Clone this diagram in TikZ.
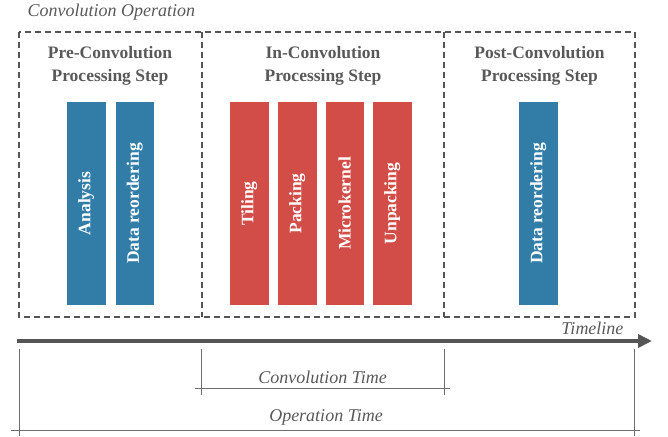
\documentclass[tikz,border=0pt]{standalone}
\usepackage{fontspec}
\setmainfont{Liberation Serif}
\usetikzlibrary{arrows.meta}
\definecolor{barblue}{HTML}{317DA8}
\definecolor{barred}{HTML}{D24C48}
\definecolor{textgray}{HTML}{595959}
\definecolor{linegray}{HTML}{555555}
\begin{document}
\begin{tikzpicture}[x=1pt,y=-1pt]
        \tikzstyle{bar}=[rotate=90,inner sep=0pt,minimum width=203pt,minimum height=38.5pt,text=white,font=\fontsize{17.5}{21}\selectfont\bfseries]
        \tikzstyle{bluebar}=[bar,fill=barblue]
        \tikzstyle{redbar}=[bar,fill=barred]
        \tikzstyle{head}=[align=center,text=textgray,font=\fontsize{17.5}{22.3}\selectfont\bfseries]
        \tikzstyle{note}=[text=textgray,font=\fontsize{18}{21}\selectfont\itshape]
        \tikzstyle{dim}=[draw=linegray!85,line width=0.8pt]

        \useasboundingbox (0,0) rectangle (668,436);

        \node (title)[note,anchor=west] at (24,12.5) {Convolution Operation};

        \draw[linegray, line width=1.5pt, dash pattern=on 6pt off 4pt] (19,32) rectangle (635,317);
        \draw[linegray, line width=1.5pt, dash pattern=on 6pt off 4pt] (202,32) -- (202,317);
        \draw[linegray, line width=1.5pt, dash pattern=on 6pt off 4pt] (444,32) -- (444,317);

        \node (pre)[head] at (110,66) {Pre-Convolution\\Processing Step};
        \node (in)[head] at (323,66) {In-Convolution\\Processing Step};
        \node (post)[head] at (539.5,66) {Post-Convolution\\Processing Step};

        \node (analysis)[bluebar] at (86.25,203.5) {Analysis};
        \node (reorder)[bluebar] at (134.75,203.5) {Data reordering};

        \node (tiling)[redbar] at (249.25,203.5) {Tiling};
        \node (packing)[redbar] at (297.25,203.5) {Packing};
        \node (micro)[redbar] at (344.75,203.5) {Microkernel};
        \node (unpack)[redbar] at (392.25,203.5) {Unpacking};

        \node (reorderpost)[bluebar] at (538.25,203.5) {Data reordering};

        \coordinate (tstart) at (17,341);
        \coordinate (tend) at (652,341);
        \draw[linegray, line width=3.5pt, -{Triangle[length=14pt,width=13pt]}] (tstart) -- (tend);
        \node (timeline)[note,anchor=east] at (627,328) {Timeline};

        \coordinate (c1) at (201,349);
        \coordinate (c2) at (444,349);
        \coordinate (c3) at (201,395);
        \coordinate (c4) at (444,395);
        \draw[dim] (c1) -- (c3);
        \draw[dim] (c2) -- (c4);
        \draw[dim] (195,388) -- (450,388);
        \node (convtime)[note] at (322.5,377) {Convolution Time};

        \coordinate (o1) at (19,349);
        \coordinate (o2) at (634,349);
        \coordinate (o3) at (19,436);
        \coordinate (o4) at (634,436);
        \draw[dim] (o1) -- (o3);
        \draw[dim] (o2) -- (o4);
        \draw[dim] (11,430) -- (640,430);
        \node (optime)[note] at (326,417) {Operation Time};
\end{tikzpicture}
\end{document}
